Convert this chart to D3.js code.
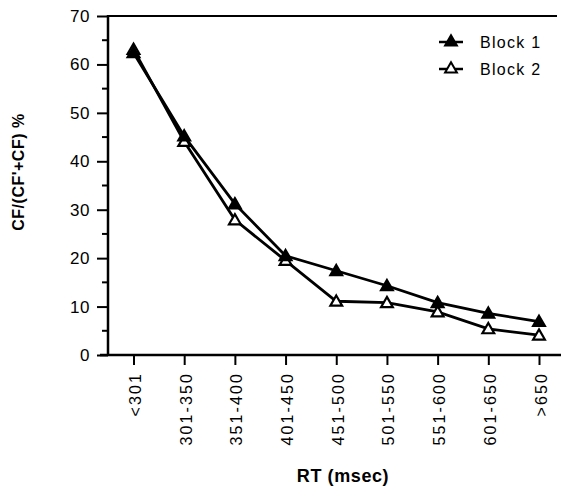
<!DOCTYPE html>
<html><head><meta charset="utf-8">
<script src="https://cdn.jsdelivr.net/npm/d3@7"></script>
<style>
html,body{margin:0;padding:0;background:#fff;}
svg{display:block;font-family:"Liberation Sans",Arial,Helvetica,sans-serif;}
</style></head>
<body><svg id="c" width="561" height="489"></svg>
<script>
const categories = ["<301","301-350","351-400","401-450","451-500","501-550","551-600","601-650",">650"];
const block1 = [62.4, 45.2, 31.2, 20.5, 17.4, 14.3, 10.8, 8.6, 6.9];
const block2 = [63.1, 44.1, 27.9, 19.5, 11.1, 10.8, 8.9, 5.4, 4.1];
const seriesNames = ["Block 1", "Block 2"];
const yTicks = [0,10,20,30,40,50,60,70];

const svg = d3.select("#c");
const y = d3.scaleLinear().domain([0,70]).range([355,16]);
const x = d3.scalePoint().domain(categories).range([133.5,539]);

// y axis
const yAxis = d3.axisLeft(y).tickValues(yTicks).tickSize(11).tickPadding(7).tickFormat(d3.format("d"));
const gy = svg.append("g").attr("transform","translate(108,0)").call(yAxis);
gy.select(".domain").remove();
gy.selectAll(".tick line").attr("stroke","#000").attr("stroke-width",2);
gy.selectAll(".tick text").attr("font-size",17).attr("letter-spacing","0.5px").attr("fill","#000");
// minor ticks
const minor = d3.range(5,70,10);
svg.append("g").selectAll("line").data(minor).join("line")
  .attr("x1",102).attr("x2",108).attr("y1",d=>y(d)).attr("y2",d=>y(d))
  .attr("stroke","#000").attr("stroke-width",2);
svg.append("line").attr("x1",108).attr("x2",108).attr("y1",15).attr("y2",356).attr("stroke","#000").attr("stroke-width",2.5);
// top line
svg.append("line").attr("x1",107).attr("x2",557).attr("y1",16).attr("y2",16).attr("stroke","#000").attr("stroke-width",2);

// x axis
const xAxis = d3.axisBottom(x).tickSize(10).tickPadding(0);
const gx = svg.append("g").attr("transform","translate(0,355)").call(xAxis);
gx.select(".domain").remove();
gx.selectAll(".tick line").attr("stroke","#000").attr("stroke-width",2);
gx.selectAll(".tick text")
  .attr("font-size",16).attr("letter-spacing","2.1px").attr("fill","#000")
  .attr("text-anchor","end").attr("dy",null)
  .attr("transform","translate(7,17) rotate(-90)")
  .attr("x",0).attr("y",0);
svg.append("line").attr("x1",100).attr("x2",561).attr("y1",355).attr("y2",355).attr("stroke","#000").attr("stroke-width",2.5);

// lines
const line = d3.line().x((d,i)=>x(categories[i])).y(d=>y(d));
const tri = d3.symbol().type(d3.symbolTriangle).size(60);
[block1, block2].forEach((data,k)=>{
  svg.append("path").datum(data).attr("d",line).attr("fill","none").attr("stroke","#000").attr("stroke-width",2.8);
});
[block2, block1].forEach((data,k)=>{
  const filled = (k===1);
  svg.append("g").selectAll("path").data(data).join("path")
    .attr("d",tri).attr("transform",(d,i)=>`translate(${x(categories[i])},${y(d)+1})`)
    .attr("fill",filled?"#000":"#fff").attr("stroke","#000").attr("stroke-width",2.2);
});

// legend
const lg = svg.append("g");
seriesNames.forEach((n,i)=>{
  const yy = 42 + i*27;
  lg.append("line").attr("x1",439).attr("x2",463).attr("y1",yy).attr("y2",yy).attr("stroke","#000").attr("stroke-width",2.5);
  lg.append("path").attr("d",tri).attr("transform",`translate(451,${yy})`)
    .attr("fill",i===0?"#000":"#fff").attr("stroke","#000").attr("stroke-width",2);
  lg.append("text").attr("x",480).attr("y",yy+6).attr("font-size",16).attr("letter-spacing","1.3px").attr("fill","#000").text(n);
});

// axis titles
svg.append("text").attr("x",343).attr("y",482).attr("text-anchor","middle")
  .attr("font-size",18).attr("font-weight","bold").attr("letter-spacing","0.6px").text("RT (msec)");
svg.append("text").attr("transform","translate(24,172) rotate(-90)").attr("text-anchor","middle")
  .attr("font-size",16).attr("font-weight","bold").attr("letter-spacing","0.5px").text("CF/(CF'+CF) %");
</script></body></html>
